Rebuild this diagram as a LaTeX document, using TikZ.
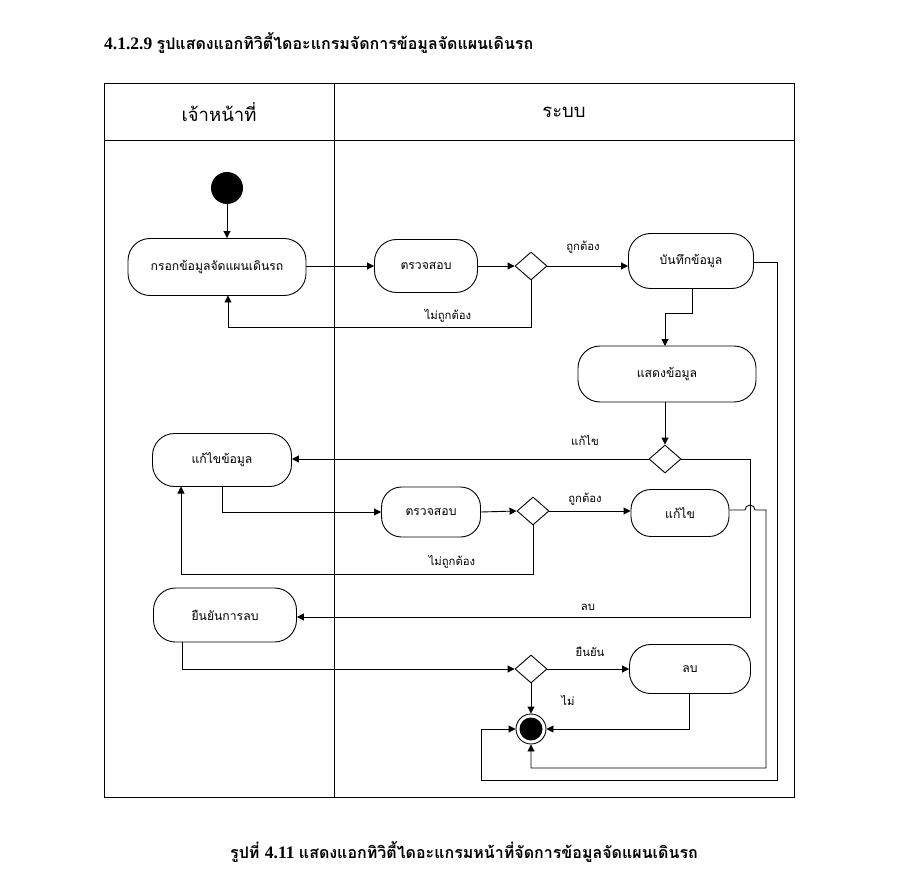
\documentclass[tikz,border=0pt]{standalone}
\usepackage{fontspec}
\usetikzlibrary{arrows.meta,shapes.geometric}
\newfontfamily\thai[Script=Thai]{Loma}
\newfontfamily\serifbf{Liberation Serif}
\begin{document}
\begin{tikzpicture}[x=1pt,y=-1pt,
  ln/.style={line width=0.9pt},
  arr/.style={ln,-{Triangle[length=7pt,width=7pt]}},
  act/.style={draw,ln,rounded corners=22pt,font=\thai\fontsize{12.2}{14}\selectfont,inner sep=0pt},
  dec/.style={draw,ln,diamond,minimum width=32pt,minimum height=28pt,inner sep=0pt,aspect=1.15},
  lbl/.style={font=\thai\fontsize{11.3}{13}\selectfont,inner sep=0pt},
  hdr/.style={font=\thai\fontsize{18.5}{20}\selectfont,inner sep=0pt}]
\useasboundingbox (0,0) rectangle (920,874);
\fill[white] (0,0) rectangle (920,874);
% title
\node[anchor=west,inner sep=0pt] (title) at (104,43) {\serifbf\bfseries\fontsize{17.5}{20}\selectfont 4.1.2.9 {\thai\bfseries\fontsize{16}{20}\selectfont รูปแสดงแอกทิวิตี้ไดอะแกรมจัดการข้อมูลจัดแผนเดินรถ}};
% frame
\draw[ln] (104,83) rectangle (794,797);
\draw[ln] (104,140) -- (794,140);
\draw[ln] (334,83) -- (334,797);
\node[hdr] (h1) at (219,112) {เจ้าหน้าที่};
\node[hdr] (h2) at (564,112) {ระบบ};
% nodes
\node[circle,fill=black,minimum size=32pt,inner sep=0pt] (start) at (227,188) {};
\node[act,minimum width=178pt,minimum height=57pt] (fill) at (217,267) {กรอกข้อมูลจัดแผนเดินรถ};
\node[act,minimum width=103pt,minimum height=53pt] (chk1) at (426,266) {ตรวจสอบ};
\node[dec] (d1) at (531,266) {};
\node[act,minimum width=125pt,minimum height=55pt] (save) at (691,261) {บันทึกข้อมูล};
\node[act,minimum width=178pt,minimum height=56pt] (show) at (667,374) {แสดงข้อมูล};
\node[dec] (d2) at (665,459) {};
\node[act,minimum width=139pt,minimum height=53pt] (edit) at (222,460) {แก้ไขข้อมูล};
\node[act,minimum width=99pt,minimum height=50pt,rounded corners=20pt] (chk2) at (431,512) {ตรวจสอบ};
\node[dec] (d3) at (533,511) {};
\node[act,minimum width=98pt,minimum height=47pt,rounded corners=20pt] (fix) at (680,513) {แก้ไข};
\node[act,minimum width=143pt,minimum height=54pt] (conf) at (225,615) {ยืนยันการลบ};
\node[dec] (d4) at (531,669) {};
\node[act,minimum width=121pt,minimum height=49pt,rounded corners=21pt] (del) at (690,669) {ลบ};
\node[circle,draw,ln,fill=white,minimum size=30pt,inner sep=0pt] (end) at (531,729) {};
\fill (end.center) circle (11.5);
% connectors
\draw[arr] (start) -- (start |- fill.north);
\draw[arr] (fill.east |- chk1.west) -- (chk1.west);
\draw[arr] (chk1.east) -- (d1.west);
\draw[arr] (d1.east) -- (d1.east -| save.west);
\draw[arr] (d1.south) |- (228,327) -- (228,295.5);
\draw[arr] (692,288.5) |- (665,313) -- (665,346);
\draw[arr] (665,402) -- (d2.north);
\draw[arr] (d2.west) -- (d2.west -| edit.east);
\draw[arr] (d2.east) -| (750,617) -- (conf.east |- 0,617);
\draw[arr] (222,486.5) |- (chk2.west);
\draw[arr] (chk2.east) -- (d3.west);
\draw[arr] (d3.east) -- (d3.east -| fix.west);
\draw[arr] (d3.south) |- (181,574) -- (181,486.5);
\draw[arr] (182,642) |- (d4.west);
\draw[arr] (d4.east) -- (d4.east -| del.west);
\draw[arr] (d4.south) -- (end.north);
\draw[arr] (689,693.5) |- (end.east);
\draw[arr] (fix.east |- 0,510) -- (745,510) arc[start angle=180,end angle=360,radius=5] -- (766,510) -- (766,768) -| (end.south);
\draw[arr] (save.east |- 0,262) -| (777,780) -| (481,729) -- (end.west);
% labels
\node[lbl] (l1) at (583,247) {ถูกต้อง};
\node[lbl] (l2) at (448,316) {ไม่ถูกต้อง};
\node[lbl] (l3) at (585,440) {แก้ไข};
\node[lbl] (l4) at (585,499) {ถูกต้อง};
\node[lbl] (l5) at (452,562) {ไม่ถูกต้อง};
\node[lbl] (l6) at (588,607) {ลบ};
\node[lbl] (l7) at (590,652) {ยืนยัน};
\node[lbl] (l8) at (568,700) {ไม่};
% caption
\node[inner sep=0pt] (cap) at (464,852) {{\thai\bfseries\fontsize{16}{20}\selectfont รูปที่ }{\serifbf\bfseries\fontsize{17.5}{20}\selectfont 4.11 }{\thai\bfseries\fontsize{16}{20}\selectfont แสดงแอกทิวิตี้ไดอะแกรมหน้าที่จัดการข้อมูลจัดแผนเดินรถ}};
\end{tikzpicture}
\end{document}
